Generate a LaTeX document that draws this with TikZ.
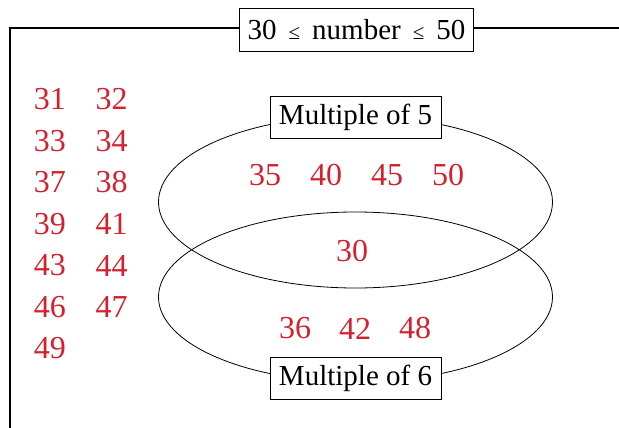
\documentclass[tikz,border=0pt]{standalone}
\usepackage{fontspec}
\setmainfont{Liberation Serif}
\definecolor{numred}{RGB}{212,33,45}
\tikzset{
  num/.style={text=numred, font=\fontsize{32}{32}\selectfont},
  setbox/.style={draw, fill=white, line width=0.8pt, font=\fontsize{29}{29}\selectfont, inner xsep=9pt, minimum height=42pt},
}
\newcommand{\smallle}{{\fontsize{21}{21}\selectfont ≤}}
\begin{document}
\begin{tikzpicture}[x=1pt, y=-1pt]
    \useasboundingbox (0,0) rectangle (619,428);

    % 外框 (universal set)
    \draw[line width=2.6pt] (10,428) -- (10,28) -- (619,28);
    \node[setbox, minimum height=43pt, inner xsep=8pt] (range) at (356.5,29.5) {30\, \smallle\, number\, \smallle\, 50};

    % 两个椭圆
    \draw[line width=0.8pt] (355.5,202) ellipse [x radius=197pt, y radius=86pt];
    \draw[line width=0.8pt] (355.5,297) ellipse [x radius=197pt, y radius=85pt];
    \node[setbox] (five) at (355.5,117) {Multiple of 5};
    \node[setbox] (six) at (355.5,378) {Multiple of 6};

    % 椭圆内的数
    \node[num] (n35) at (265,175) {35};
    \node[num] (n40) at (326,175) {40};
    \node[num] (n45) at (387,175) {45};
    \node[num] (n50) at (448,175) {50};
    \node[num] (n30) at (352,251) {30};
    \node[num] (n36) at (295,328.5) {36};
    \node[num] (n42) at (355,328.5) {42};
    \node[num] (n48) at (415,328.5) {48};

    % 椭圆外的数
    \node[num] (n31) at (50,99.5) {31};
    \node[num] (n32) at (111.5,99.5) {32};
    \node[num] (n33) at (50,141) {33};
    \node[num] (n34) at (111.5,141) {34};
    \node[num] (n37) at (50,182.5) {37};
    \node[num] (n38) at (111.5,182.5) {38};
    \node[num] (n39) at (50,224) {39};
    \node[num] (n41) at (111.5,224) {41};
    \node[num] (n43) at (50,265.5) {43};
    \node[num] (n44) at (111.5,265.5) {44};
    \node[num] (n46) at (50,307) {46};
    \node[num] (n47) at (111.5,307) {47};
    \node[num] (n49) at (50,348.5) {49};
\end{tikzpicture}
\end{document}
